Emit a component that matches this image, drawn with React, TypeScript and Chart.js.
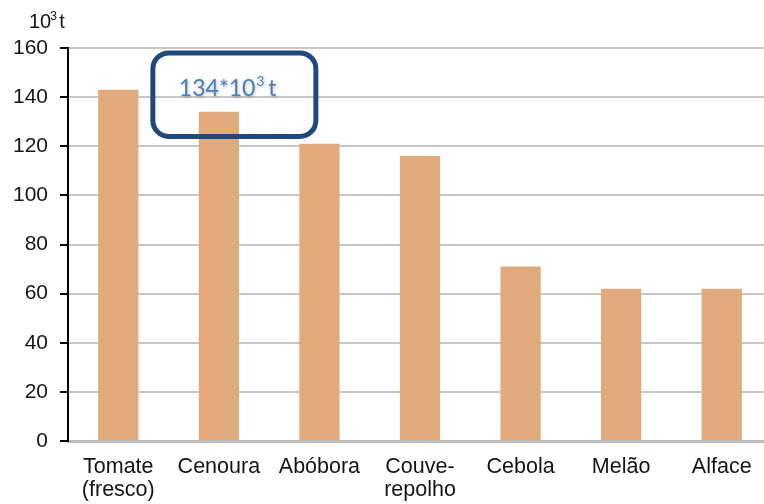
import React, { useEffect, useRef } from "react";
import { Chart, registerables } from "chart.js";

Chart.register(...registerables);

const categories: (string | string[])[] = [
  ["Tomate", "(fresco)"],
  "Cenoura",
  "Abóbora",
  ["Couve-", "repolho"],
  "Cebola",
  "Melão",
  "Alface",
];
const production = [143, 134, 121, 116, 71, 62, 62];
const yTicks = [0, 20, 40, 60, 80, 100, 120, 140, 160];
const highlightIndex = 1;

const BAR_COLOR = "#E0AA7C";
const TEXT_COLOR = "#141414";
const FONT = "'Liberation Sans', Arial, sans-serif";
const CALLOUT_FONT = "Lato, 'Open Sans', sans-serif";

// Draws the unit label above the y axis and the rounded callout over one bar
const annotations = {
  id: "annotations",
  afterDraw(chart: any) {
    const { ctx, scales } = chart;
    const y = scales.y;
    const meta = chart.getDatasetMeta(0);
    const bar = meta.data[highlightIndex];

    ctx.save();
    // unit label "10³ t"
    ctx.fillStyle = TEXT_COLOR;
    ctx.textBaseline = "alphabetic";
    ctx.textAlign = "left";
    const ux = 29;
    const uy = y.getPixelForValue(160) - 20;
    ctx.font = `20px ${FONT}`;
    ctx.fillText("10", ux, uy);
    const w10 = ctx.measureText("10").width;
    ctx.font = `12px ${FONT}`;
    ctx.fillText("3", ux + w10 - 1, uy - 8);
    ctx.font = `20px ${FONT}`;
    ctx.fillText("t", ux + w10 + 8, uy);

    // callout box
    const value = production[highlightIndex];
    const left = bar.x - 66;
    const right = bar.x + 97;
    const top = y.getPixelForValue(158);
    const bottom = y.getPixelForValue(124);
    const r = 16;
    ctx.strokeStyle = "#1F497D";
    ctx.lineWidth = 5;
    ctx.beginPath();
    ctx.moveTo(left + r, top);
    ctx.lineTo(right - r, top);
    ctx.arcTo(right, top, right, top + r, r);
    ctx.lineTo(right, bottom - r);
    ctx.arcTo(right, bottom, right - r, bottom, r);
    ctx.lineTo(left + r, bottom);
    ctx.arcTo(left, bottom, left, bottom - r, r);
    ctx.lineTo(left, top + r);
    ctx.arcTo(left, top, left + r, top, r);
    ctx.closePath();
    ctx.stroke();

    // callout text "134*10³ t"
    const tx = left + 26;
    const ty = y.getPixelForValue(140.5);
    ctx.fillStyle = "#4A7EBB";
    ctx.shadowColor = "rgba(0,0,0,0.25)";
    ctx.shadowBlur = 3;
    ctx.shadowOffsetX = 1;
    ctx.shadowOffsetY = 1;
    const main = `${value}*10`;
    ctx.font = `23px ${CALLOUT_FONT}`;
    ctx.fillText(main, tx, ty);
    const wm = ctx.measureText(main).width;
    ctx.font = `14px ${CALLOUT_FONT}`;
    ctx.fillText("3", tx + wm + 1, ty - 10);
    ctx.font = `23px ${CALLOUT_FONT}`;
    ctx.fillText("t", tx + wm + 13, ty);
    ctx.restore();
  },
};

export default function App() {
  const canvasRef = useRef<HTMLCanvasElement | null>(null);

  useEffect(() => {
    if (!canvasRef.current) return;
    const chart = new Chart(canvasRef.current, {
      type: "bar",
      data: {
        labels: categories,
        datasets: [
          {
            data: production,
            backgroundColor: BAR_COLOR,
            borderWidth: 0,
            categoryPercentage: 1,
            barPercentage: 0.4,
          },
        ],
      },
      options: {
        animation: false,
        responsive: false,
        devicePixelRatio: 1,
        layout: { padding: { top: 48, left: 0, right: 18, bottom: 0 } },
        plugins: {
          legend: { display: false },
          tooltip: { enabled: false },
        },
        scales: {
          x: {
            offset: true,
            grid: { display: false, drawTicks: false },
            border: { display: true, color: "#bdbdbd", width: 3 },
            ticks: {
              color: TEXT_COLOR,
              font: { family: FONT, size: 21.5, lineHeight: 1.1 },
              padding: 14,
              maxRotation: 0,
              autoSkip: false,
            },
            afterFit: (scale: any) => {
              scale.height = 63;
            },
          },
          y: {
            min: 0,
            max: 160,
            afterBuildTicks: (scale: any) => {
              scale.ticks = yTicks.map((v) => ({ value: v }));
            },
            grid: {
              color: "#c6c6c6",
              lineWidth: 2,
              tickLength: 8,
              tickColor: "#000000",
              tickWidth: 2,
            },
            border: { display: true, color: "#000000", width: 2 },
            ticks: {
              color: TEXT_COLOR,
              font: { family: FONT, size: 21 },
              padding: 12,
            },
            afterFit: (scale: any) => {
              scale.width = 68;
            },
          },
        },
      },
      plugins: [annotations],
    });
    return () => chart.destroy();
  }, []);

  return (
    <div
      style={{
        position: "fixed",
        left: 0,
        top: 0,
        width: 764,
        height: 504,
        overflow: "hidden",
        background: "#ffffff",
      }}
    >
      <canvas ref={canvasRef} width={790} height={504} />
    </div>
  );
}
